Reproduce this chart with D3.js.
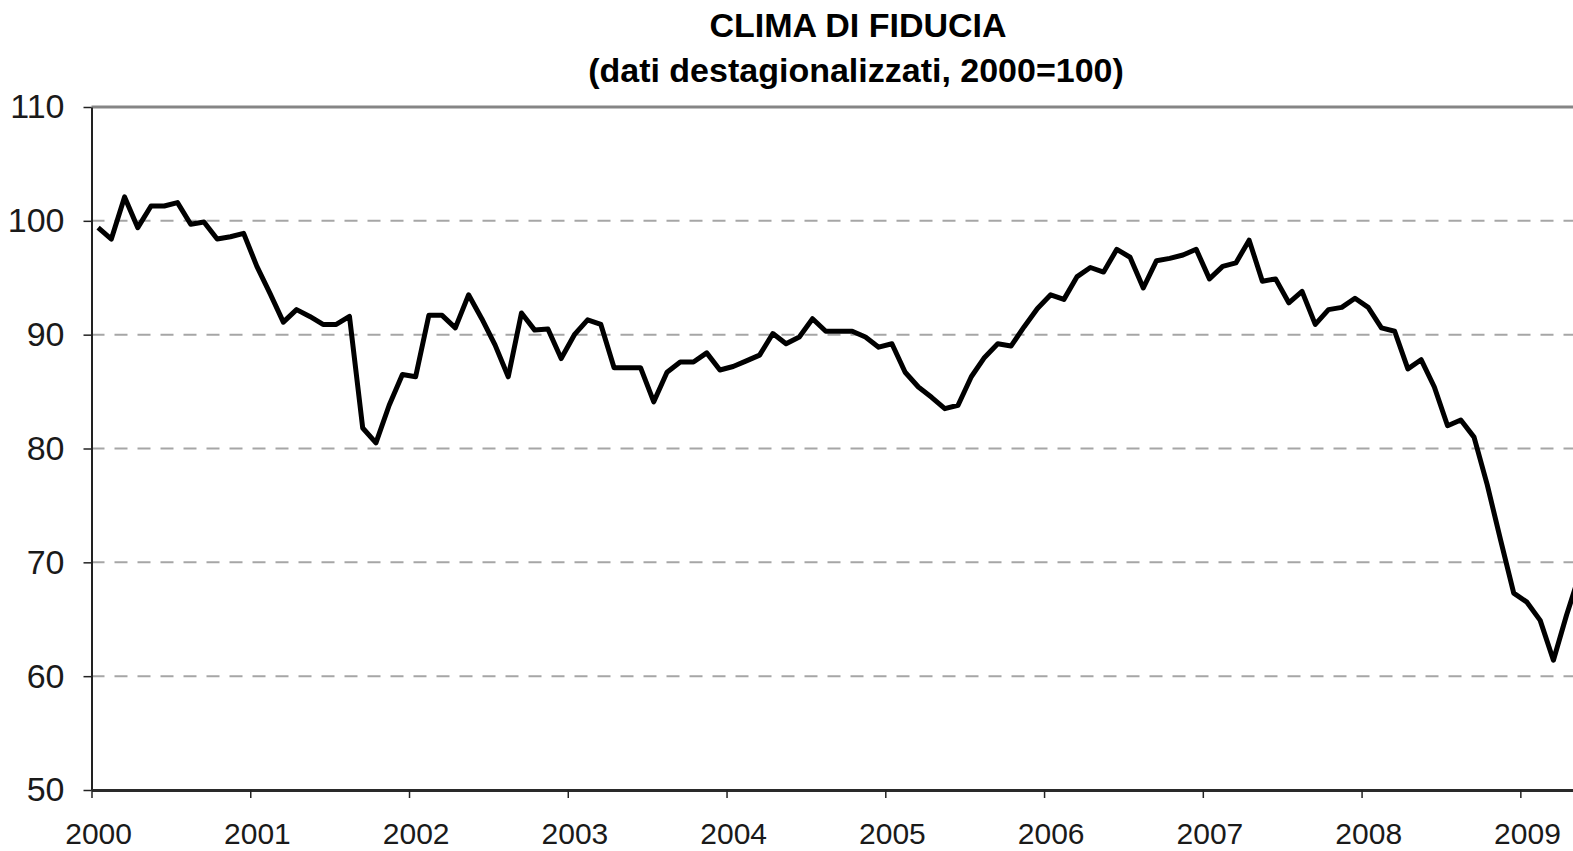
<!DOCTYPE html>
<html>
<script src="https://d3js.org/d3.v7.min.js"></script>
<head>
	<title>Clima di fiducia</title>
	<meta charset="UTF-8">
	<style type="text/css">
		body { margin: 0; background: #fff; }
		text { font-family: "Liberation Sans", Arial, sans-serif; fill: #1a1a1a; }
		.title { font-weight: bold; font-size: 34px; fill: #000; }
		.grid line { stroke: #a6a6a6; stroke-width: 2; stroke-dasharray: 13 10; }
		.line { fill: none; stroke: #000; stroke-width: 5; stroke-linejoin: round; }
	</style>
</head>
<body>
<script type="text/javascript">

	//=====DATA (monthly, seasonally adjusted, 2000=100)==========================
	var startYear = 2000;
	var years = [2000, 2001, 2002, 2003, 2004, 2005, 2006, 2007, 2008, 2009];
	var yTicks = [50, 60, 70, 80, 90, 100, 110];

	var v2000 = [99.4, 98.4, 102.1, 99.4, 101.3, 101.3, 101.6, 99.7, 99.9, 98.4, 98.6, 98.9];
	var v2001 = [96.0, 93.6, 91.1, 92.2, 91.6, 90.9, 90.9, 91.6, 81.8, 80.5, 83.8, 86.5];
	var v2002 = [86.3, 91.7, 91.7, 90.6, 93.5, 91.4, 89.1, 86.3, 91.9, 90.4, 90.5, 87.9];
	var v2003 = [90.0, 91.3, 90.9, 87.1, 87.1, 87.1, 84.1, 86.7, 87.6, 87.6, 88.4, 86.9];
	var v2004 = [87.2, 87.7, 88.2, 90.1, 89.2, 89.8, 91.4, 90.3, 90.3, 90.3, 89.8, 88.9];
	var v2005 = [89.2, 86.7, 85.4, 84.5, 83.5, 83.8, 86.3, 88.0, 89.2, 89.0, 90.7, 92.3];
	var v2006 = [93.5, 93.1, 95.1, 95.9, 95.5, 97.5, 96.8, 94.1, 96.5, 96.7, 97.0, 97.5];
	var v2007 = [94.9, 96.0, 96.3, 98.3, 94.7, 94.9, 92.8, 93.8, 90.9, 92.2, 92.4, 93.2];
	var v2008 = [92.4, 90.6, 90.3, 87.0, 87.8, 85.4, 82.0, 82.5, 81.0, 76.8, 72.0, 67.3];
	var v2009 = [66.5, 64.9, 61.4, 65.4, 69.0];

	var values = [].concat(v2000, v2001, v2002, v2003, v2004, v2005, v2006, v2007, v2008, v2009);

	var width = 1573, height = 851;
	var plotLeft = 91.5, plotTop = 107, plotBottom = 790;
	var monthW = 13.23;
	var nMonths = 120; // axis runs on past the picture edge

	var svg = d3.select("body").append("svg")
		.attr("width", width)
		.attr("height", height);

	//=======SCALE================================================================
	var x = d3.scaleLinear()
		.domain([0, nMonths])
		.range([plotLeft, plotLeft + nMonths * monthW]);

	var y = d3.scaleLinear()
		.domain([50, 110])
		.range([plotBottom, plotTop]);

	//======TITLE=================================================================
	svg.append("text").attr("class", "title")
		.attr("x", 858).attr("y", 37)
		.attr("text-anchor", "middle")
		.text("CLIMA DI FIDUCIA");
	svg.append("text").attr("class", "title")
		.attr("x", 856).attr("y", 82)
		.attr("text-anchor", "middle")
		.text("(dati destagionalizzati, 2000=100)");

	//======GRID==================================================================
	svg.append("g").attr("class", "grid")
		.selectAll("line")
		.data(yTicks.filter(function(d) { return d > 50 && d < 110; }))
		.enter().append("line")
		.attr("x1", plotLeft).attr("x2", x(nMonths))
		.attr("y1", function(d) { return y(d); })
		.attr("y2", function(d) { return y(d); });

	// top frame line at 110
	svg.append("line")
		.attr("x1", plotLeft).attr("x2", x(nMonths))
		.attr("y1", y(110)).attr("y2", y(110))
		.attr("stroke", "#858585").attr("stroke-width", 3);

	//======AXIS==================================================================
	var yAxis = d3.axisLeft(y)
		.tickValues(yTicks)
		.tickSize(8)
		.tickSizeOuter(0)
		.tickPadding(19);

	var gy = svg.append("g")
		.attr("transform", "translate(" + plotLeft + ",0)")
		.call(yAxis);
	gy.select(".domain").attr("stroke", "#222").attr("stroke-width", 2);
	gy.selectAll(".tick line").attr("stroke", "#222").attr("stroke-width", 1.5);
	gy.selectAll("text").style("font-size", "34px").attr("fill", "#2a2a2a");

	var xAxis = d3.axisBottom(x)
		.tickValues(years.map(function(d) { return (d - startYear) * 12; }))
		.tickFormat(function(d) { return startYear + d / 12; })
		.tickSize(8)
		.tickSizeOuter(0)
		.tickPadding(25);

	var gx = svg.append("g")
		.attr("transform", "translate(0," + plotBottom + ")")
		.call(xAxis);
	gx.select(".domain").attr("stroke", "#2a2a2a").attr("stroke-width", 3);
	gx.selectAll(".tick line").attr("stroke", "#222").attr("stroke-width", 1.5);
	gx.selectAll("text")
		.attr("x", monthW / 2)
		.style("font-size", "30px")
		.attr("fill", "#222");

	//==Draw the Path=============================================================
	var valueline = d3.line()
		.x(function(d, i) { return x(i + 0.5); })
		.y(function(d) { return y(d); });

	svg.append("path")
		.attr("class", "line")
		.attr("d", valueline(values));

</script>
</body>
</html>
